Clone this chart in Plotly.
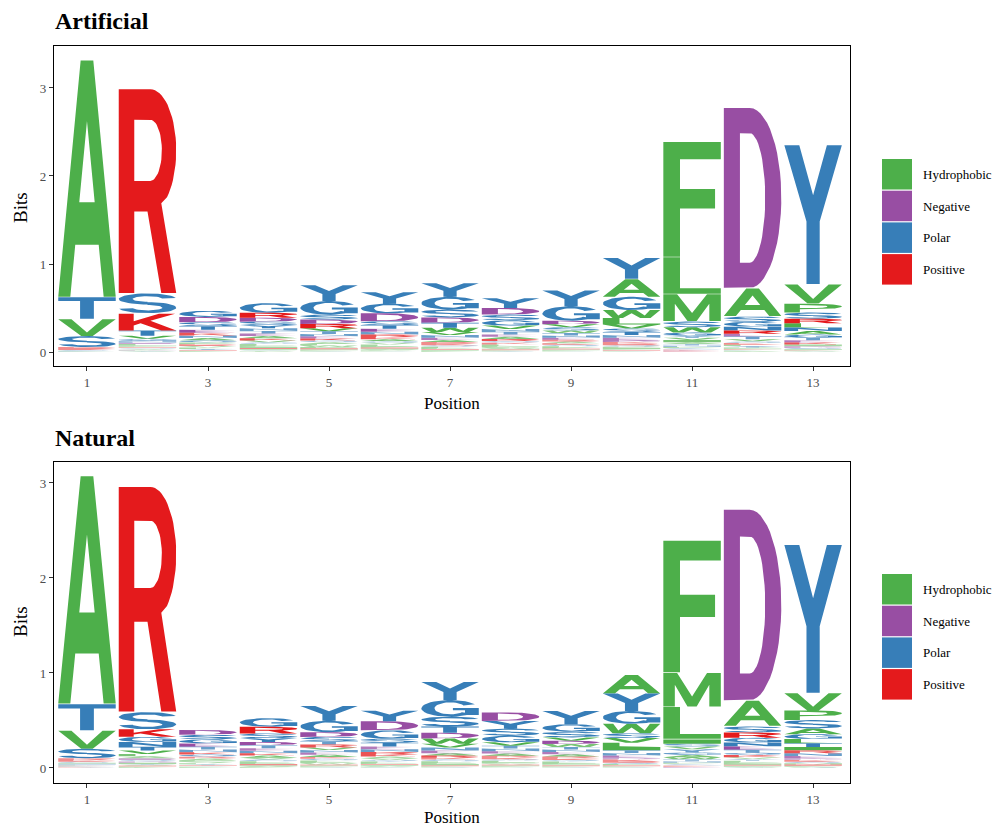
import numpy as np
import plotly.graph_objects as go

# ---------------- data (bits per residue) ----------------
positions = list(range(1, 14))

art_bits = [
    {"A": 2.69, "T": 0.25, "V": 0.19, "S": 0.125, "R": 0.02, "K": 0.012, "G": 0.01, "I": 0.008, "N": 0.006},
    {"R": 2.32, "S": 0.23, "K": 0.19, "T": 0.06, "V": 0.035, "G": 0.025, "N": 0.02, "L": 0.015, "E": 0.015,
     "A": 0.01, "Q": 0.01, "H": 0.01, "P": 0.01, "I": 0.01, "D": 0.008, "Y": 0.006, "M": 0.006, "W": 0.005},
    {"G": 0.07, "D": 0.06, "S": 0.045, "T": 0.04, "E": 0.035, "N": 0.03, "K": 0.03, "Q": 0.025, "A": 0.025,
     "R": 0.02, "P": 0.02, "V": 0.018, "L": 0.015, "Y": 0.012, "H": 0.01, "I": 0.008, "F": 0.005},
    {"G": 0.11, "R": 0.055, "D": 0.045, "S": 0.04, "Y": 0.035, "T": 0.03, "N": 0.03, "E": 0.028, "K": 0.025,
     "A": 0.025, "V": 0.022, "Q": 0.02, "L": 0.018, "P": 0.015, "H": 0.012, "M": 0.012, "I": 0.01,
     "W": 0.008, "C": 0.008, "F": 0.007},
    {"Y": 0.18, "G": 0.155, "S": 0.055, "D": 0.05, "R": 0.048, "V": 0.035, "T": 0.03, "N": 0.028, "E": 0.025,
     "K": 0.022, "A": 0.02, "Q": 0.02, "L": 0.018, "P": 0.015, "W": 0.015, "H": 0.012, "I": 0.01,
     "F": 0.008, "M": 0.007, "C": 0.006},
    {"Y": 0.13, "G": 0.11, "D": 0.09, "S": 0.045, "T": 0.04, "E": 0.035, "N": 0.03, "R": 0.028, "K": 0.025,
     "A": 0.022, "V": 0.02, "Q": 0.02, "L": 0.018, "P": 0.015, "H": 0.012, "W": 0.01, "I": 0.01,
     "F": 0.008, "M": 0.006, "C": 0.005},
    {"Y": 0.155, "G": 0.145, "S": 0.09, "D": 0.06, "T": 0.055, "W": 0.05, "V": 0.035, "N": 0.03, "E": 0.025,
     "A": 0.022, "R": 0.02, "K": 0.018, "Q": 0.016, "L": 0.015, "P": 0.012, "I": 0.01, "H": 0.01,
     "F": 0.008, "M": 0.006},
    {"Y": 0.11, "D": 0.075, "S": 0.065, "G": 0.06, "V": 0.04, "T": 0.03, "N": 0.03, "E": 0.028, "A": 0.025,
     "R": 0.022, "K": 0.02, "Q": 0.02, "L": 0.018, "P": 0.015, "W": 0.012, "H": 0.01, "I": 0.01,
     "F": 0.008, "M": 0.006, "C": 0.006},
    {"Y": 0.18, "G": 0.165, "D": 0.04, "S": 0.035, "V": 0.035, "W": 0.03, "T": 0.028, "N": 0.025, "E": 0.022,
     "A": 0.02, "R": 0.02, "K": 0.018, "Q": 0.016, "L": 0.015, "P": 0.012, "I": 0.01, "H": 0.01,
     "F": 0.008, "M": 0.006, "C": 0.005},
    {"Y": 0.24, "A": 0.2, "G": 0.15, "W": 0.09, "L": 0.075, "V": 0.045, "S": 0.04, "T": 0.035, "N": 0.03,
     "E": 0.025, "D": 0.022, "K": 0.02, "R": 0.018, "Q": 0.016, "P": 0.015, "I": 0.013, "H": 0.01,
     "F": 0.01, "M": 0.008, "C": 0.005},
    {"F": 1.31, "L": 0.42, "M": 0.31, "S": 0.065, "W": 0.06, "G": 0.035, "I": 0.025, "V": 0.025, "Y": 0.025,
     "A": 0.02, "T": 0.018, "N": 0.015, "P": 0.012, "C": 0.01, "Q": 0.008, "H": 0.007, "D": 0.006,
     "E": 0.005, "K": 0.005, "R": 0.005},
    {"D": 2.05, "A": 0.32, "S": 0.06, "G": 0.055, "N": 0.045, "R": 0.035, "E": 0.032, "T": 0.03, "V": 0.025,
     "Q": 0.02, "K": 0.018, "L": 0.016, "Y": 0.015, "P": 0.012, "I": 0.01, "H": 0.008, "M": 0.006,
     "C": 0.006, "F": 0.005, "W": 0.005},
    {"Y": 1.58, "V": 0.22, "P": 0.1, "S": 0.07, "L": 0.05, "R": 0.05, "A": 0.04, "N": 0.04, "G": 0.035,
     "T": 0.03, "E": 0.025, "K": 0.022, "D": 0.02, "I": 0.02, "Q": 0.012, "M": 0.01, "H": 0.008,
     "F": 0.006, "W": 0.005, "C": 0.005},
]

nat_bits = [
    {"A": 2.40, "T": 0.28, "V": 0.19, "S": 0.1, "R": 0.02, "K": 0.015, "G": 0.012, "N": 0.01, "I": 0.01,
     "L": 0.008, "E": 0.006, "D": 0.006, "Q": 0.005, "H": 0.005, "P": 0.005},
    {"R": 2.37, "S": 0.18, "K": 0.08, "G": 0.055, "N": 0.05, "T": 0.04, "V": 0.035, "L": 0.025, "A": 0.02,
     "E": 0.018, "Q": 0.016, "D": 0.014, "I": 0.012, "Y": 0.01, "H": 0.008, "W": 0.008, "P": 0.006,
     "F": 0.006, "M": 0.005},
    {"D": 0.05, "S": 0.048, "G": 0.042, "E": 0.035, "T": 0.03, "N": 0.028, "K": 0.025, "Q": 0.022, "R": 0.02,
     "A": 0.018, "P": 0.016, "V": 0.014, "L": 0.012, "Y": 0.01, "H": 0.008, "I": 0.006, "F": 0.005,
     "M": 0.005, "C": 0.005},
    {"G": 0.09, "R": 0.07, "S": 0.05, "Y": 0.04, "D": 0.035, "T": 0.03, "E": 0.028, "N": 0.026, "K": 0.024,
     "A": 0.022, "V": 0.02, "Q": 0.018, "L": 0.016, "P": 0.014, "H": 0.012, "I": 0.01, "W": 0.008,
     "F": 0.006, "M": 0.005},
    {"Y": 0.155, "G": 0.12, "D": 0.05, "S": 0.048, "T": 0.032, "R": 0.03, "V": 0.028, "N": 0.026, "E": 0.024,
     "A": 0.022, "K": 0.02, "Q": 0.018, "L": 0.016, "P": 0.014, "W": 0.012, "H": 0.01, "I": 0.009,
     "F": 0.007, "M": 0.006, "C": 0.005},
    {"Y": 0.11, "D": 0.095, "G": 0.09, "T": 0.04, "S": 0.04, "E": 0.03, "N": 0.028, "R": 0.025, "K": 0.022,
     "A": 0.02, "V": 0.018, "Q": 0.016, "L": 0.014, "P": 0.012, "H": 0.01, "W": 0.008, "I": 0.008,
     "F": 0.006, "M": 0.005, "C": 0.005},
    {"Y": 0.19, "G": 0.175, "S": 0.104, "T": 0.065, "D": 0.06, "W": 0.055, "V": 0.04, "N": 0.032, "E": 0.028,
     "A": 0.025, "R": 0.022, "K": 0.02, "Q": 0.018, "L": 0.016, "P": 0.014, "I": 0.012, "H": 0.01,
     "F": 0.008, "M": 0.006, "C": 0.005},
    {"D": 0.09, "Y": 0.08, "S": 0.075, "G": 0.07, "V": 0.035, "T": 0.03, "N": 0.028, "E": 0.025, "A": 0.022,
     "R": 0.02, "K": 0.018, "Q": 0.016, "L": 0.015, "P": 0.013, "W": 0.011, "H": 0.01, "I": 0.009,
     "F": 0.007, "M": 0.006, "C": 0.005},
    {"Y": 0.14, "G": 0.078, "S": 0.06, "D": 0.035, "V": 0.035, "W": 0.03, "T": 0.028, "N": 0.026, "E": 0.024,
     "A": 0.022, "R": 0.02, "K": 0.018, "Q": 0.016, "L": 0.015, "P": 0.013, "I": 0.011, "H": 0.01,
     "F": 0.008, "M": 0.006, "C": 0.005},
    {"A": 0.195, "Y": 0.185, "G": 0.135, "W": 0.1, "S": 0.05, "V": 0.048, "L": 0.045, "I": 0.035, "T": 0.03,
     "N": 0.026, "E": 0.022, "D": 0.02, "K": 0.018, "R": 0.016, "Q": 0.014, "P": 0.012, "H": 0.01,
     "F": 0.008, "M": 0.006, "C": 0.005},
    {"F": 1.39, "M": 0.36, "L": 0.34, "I": 0.045, "Y": 0.03, "V": 0.03, "S": 0.03, "G": 0.028, "A": 0.025,
     "W": 0.022, "T": 0.02, "N": 0.015, "P": 0.012, "C": 0.01, "Q": 0.008, "H": 0.006, "D": 0.005,
     "E": 0.005, "K": 0.005, "R": 0.005},
    {"D": 2.01, "A": 0.27, "S": 0.065, "R": 0.055, "G": 0.05, "N": 0.04, "E": 0.035, "T": 0.032, "Q": 0.025,
     "K": 0.022, "V": 0.02, "Y": 0.018, "L": 0.016, "P": 0.014, "I": 0.012, "H": 0.01, "M": 0.008,
     "F": 0.006, "W": 0.005, "C": 0.005},
    {"Y": 1.56, "V": 0.18, "P": 0.1, "S": 0.09, "A": 0.06, "G": 0.05, "L": 0.045, "T": 0.04, "I": 0.035,
     "N": 0.03, "R": 0.03, "E": 0.022, "D": 0.02, "K": 0.018, "Q": 0.016, "M": 0.014, "H": 0.012,
     "F": 0.01, "W": 0.008, "C": 0.006},
]

group_names = ["Hydrophobic", "Negative", "Polar", "Positive"]
group_colors = ["#4DAF4A", "#984EA3", "#377EB8", "#E41A1C"]
group_members = ["AVLIMFWP", "DE", "GSTYCNQ", "KRH"]

panel_titles = ["Artificial", "Natural"]
x_tick_vals = [1, 3, 5, 7, 9, 11, 13]
y_tick_vals = [0, 1, 2, 3]

# ---------------- glyph outlines in a unit box ----------------
def ell(cx, cy, rx, ry, a0, a1, n=28):
    t = np.radians(np.linspace(a0, a1, n))
    return list(zip(cx + rx * np.cos(t), cy + ry * np.sin(t)))

def ring_arc(cx, cy, rxo, ryo, rxi, ryi, a0, a1, n=32):
    return ell(cx, cy, rxo, ryo, a0, a1, n) + ell(cx, cy, rxi, ryi, a1, a0, n)

def rect(x0, y0, x1, y1):
    return [(x0, y0), (x1, y0), (x1, y1), (x0, y1)]

SOLID, HOLE = False, True
GLYPHS = {
    "A": [([(0, 0), (0.21, 0), (0.296, 0.22), (0.704, 0.22), (0.79, 0), (1, 0), (0.61, 1), (0.39, 1)], SOLID),
          ([(0.366, 0.4), (0.634, 0.4), (0.5, 0.744)], HOLE)],
    "C": [(ring_arc(0.5, 0.5, 0.5, 0.5, 0.27, 0.36, 35, 325), SOLID)],
    "D": [([(0, 0), (0.45, 0)] + ell(0.45, 0.5, 0.55, 0.5, -90, 90) + [(0, 1)], SOLID),
          ([(0.28, 0.14), (0.45, 0.14)] + ell(0.45, 0.5, 0.27, 0.36, -90, 90) + [(0.28, 0.86)], HOLE)],
    "E": [([(0, 0), (1, 0), (1, 0.15), (0.28, 0.15), (0.28, 0.42), (0.9, 0.42), (0.9, 0.58), (0.28, 0.58),
            (0.28, 0.85), (1, 0.85), (1, 1), (0, 1)], SOLID)],
    "F": [([(0, 0), (0.29, 0), (0.29, 0.42), (0.9, 0.42), (0.9, 0.59), (0.29, 0.59), (0.29, 0.85),
            (1, 0.85), (1, 1), (0, 1)], SOLID)],
    "G": [(ring_arc(0.5, 0.5, 0.5, 0.5, 0.27, 0.36, 30, 320), SOLID),
          (rect(0.55, 0.38, 1.0, 0.52), SOLID), (rect(0.76, 0.1, 1.0, 0.52), SOLID)],
    "H": [([(0, 0), (0.26, 0), (0.26, 0.42), (0.74, 0.42), (0.74, 0), (1, 0), (1, 1), (0.74, 1),
            (0.74, 0.58), (0.26, 0.58), (0.26, 1), (0, 1)], SOLID)],
    "I": [(rect(0, 0, 1, 1), SOLID)],
    "K": [([(0, 0), (0.26, 0), (0.26, 0.3), (0.38, 0.43), (0.74, 0), (1, 0), (0.55, 0.58), (0.98, 1),
            (0.7, 1), (0.26, 0.55), (0.26, 1), (0, 1)], SOLID)],
    "L": [([(0, 0), (1, 0), (1, 0.15), (0.29, 0.15), (0.29, 1), (0, 1)], SOLID)],
    "M": [([(0, 0), (0.2, 0), (0.2, 0.65), (0.42, 0), (0.58, 0), (0.8, 0.65), (0.8, 0), (1, 0), (1, 1),
            (0.76, 1), (0.5, 0.3), (0.24, 1), (0, 1)], SOLID)],
    "N": [([(0, 0), (0.24, 0), (0.24, 0.6), (0.76, 0), (1, 0), (1, 1), (0.76, 1), (0.76, 0.4), (0.24, 1),
            (0, 1)], SOLID)],
    "P": [([(0, 0), (0.27, 0), (0.27, 0.38), (0.55, 0.38)] + ell(0.55, 0.69, 0.45, 0.31, -90, 90) + [(0, 1)], SOLID),
          ([(0.27, 0.53), (0.55, 0.53)] + ell(0.55, 0.69, 0.2, 0.16, -90, 90) + [(0.27, 0.85)], HOLE)],
    "Q": [(ell(0.5, 0.55, 0.5, 0.45, 0, 360, 48), SOLID),
          (ell(0.5, 0.55, 0.27, 0.31, 0, 360, 48), HOLE),
          ([(0.55, 0.25), (0.76, 0.25), (1.0, 0.0), (0.79, 0.0)], SOLID)],
    "R": [([(0, 0), (0.27, 0), (0.27, 0.4), (0.5, 0.4), (0.74, 0), (1, 0), (0.74, 0.44)]
           + ell(0.55, 0.7, 0.45, 0.3, -50, 90) + [(0, 1)], SOLID),
          ([(0.27, 0.55), (0.55, 0.55)] + ell(0.55, 0.7, 0.2, 0.15, -90, 90) + [(0.27, 0.85)], HOLE)],
    "S": [(ring_arc(0.5, 0.72, 0.5, 0.28, 0.26, 0.14, 10, 270), SOLID),
          (ring_arc(0.5, 0.28, 0.5, 0.28, 0.26, 0.14, -170, 90), SOLID)],
    "T": [([(0, 1), (0, 0.83), (0.38, 0.83), (0.38, 0), (0.62, 0), (0.62, 0.83), (1, 0.83), (1, 1)], SOLID)],
    "V": [([(0, 1), (0.4, 0), (0.6, 0), (1, 1), (0.77, 1), (0.5, 0.22), (0.23, 1)], SOLID)],
    "W": [([(0, 1), (0.17, 0), (0.35, 0), (0.5, 0.6), (0.65, 0), (0.83, 0), (1, 1), (0.82, 1), (0.73, 0.3),
            (0.58, 1), (0.42, 1), (0.27, 0.3), (0.18, 1)], SOLID)],
    "Y": [([(0.385, 0), (0.615, 0), (0.615, 0.45), (1, 1), (0.74, 1), (0.5, 0.64), (0.26, 1), (0, 1),
            (0.385, 0.45)], SOLID)],
}

def oriented(ring, hole):
    pts = np.array(ring, dtype=float)
    x, y = pts[:, 0], pts[:, 1]
    area = 0.5 * np.sum(x * np.roll(y, -1) - np.roll(x, -1) * y)
    if (area > 0) == hole:
        pts = pts[::-1]
    return pts

STACK_WIDTH = 0.95
GLYPH_GAP = 0.006          # tiny vertical inset so stacked letters show a hairline gap
# very thin letters render faintly in the reference (sub-pixel glyphs); mimic with lighter fills
FADE_LIMITS = [0.012, 0.022, 0.035, 1e9]
FADE_OPACITY = [0.35, 0.5, 0.75, 1.0]

letter_group = {}
for gi, members in enumerate(group_members):
    for ch in members:
        letter_group[ch] = gi

# ---------------- figure ----------------
# the page body adds an 8px offset; size the figure so it ends at the window edge
OFF = 8
W, H = 1002 - OFF, 826 - OFF
def px(x):
    return (x - OFF) / W
def py(y):
    return 1 - (y - OFF) / H

fig = go.Figure()
panel_boxes = [(46, 366), (462, 783)]
y_ranges = [[-0.159, 3.477], [-0.158, 3.221]]
x_range = [0.455, 13.61]

for p, bits in enumerate([art_bits, nat_bits]):
    nf = len(FADE_LIMITS)
    xs = [[[] for _ in range(nf)] for _ in group_names]
    ys = [[[] for _ in range(nf)] for _ in group_names]
    for pos, stack in zip(positions, bits):
        items = sorted(stack.items(), key=lambda kv: kv[1])
        base = 0.0
        for ch, h in items:
            g = letter_group[ch]
            f = next(i for i, lim in enumerate(FADE_LIMITS) if h < lim)
            gap = GLYPH_GAP if h > 0.2 else 0.0
            for ring, hole in GLYPHS[ch]:
                pts = oriented(ring, hole)
                xs[g][f].extend(list(pos - STACK_WIDTH / 2 + pts[:, 0] * STACK_WIDTH) + [None])
                ys[g][f].extend(list(base + gap + pts[:, 1] * (h - gap)) + [None])
            base += h
    xa = "x" if p == 0 else "x2"
    ya = "y" if p == 0 else "y2"
    for g in range(len(group_names)):
        for f in range(nf):
            if not xs[g][f]:
                continue
            fig.add_trace(go.Scatter(
                x=xs[g][f], y=ys[g][f], mode="lines", fill="toself", opacity=FADE_OPACITY[f],
                fillcolor=group_colors[g], line=dict(width=0, color=group_colors[g]),
                hoverinfo="skip", showlegend=False, xaxis=xa, yaxis=ya))

axis_common = dict(showline=True, mirror=True, linecolor="black", linewidth=1.3,
                   ticks="outside", ticklen=4, tickwidth=1, tickcolor="#333333",
                   showgrid=False, zeroline=False,
                   tickfont=dict(family="Liberation Serif", size=13, color="#4D4D4D"))

layout = dict(width=W, height=H, margin=dict(l=0, r=0, t=0, b=0),
              paper_bgcolor="white", plot_bgcolor="white", showlegend=False)
for p, (top, bottom) in enumerate(panel_boxes):
    sfx = "" if p == 0 else "2"
    layout["xaxis" + sfx] = dict(axis_common, domain=[px(54), px(850)], range=x_range,
                                 tickvals=x_tick_vals, anchor="y" + sfx)
    layout["yaxis" + sfx] = dict(axis_common, domain=[py(bottom), py(top)], range=y_ranges[p],
                                 tickvals=y_tick_vals, anchor="x" + sfx)
fig.update_layout(**layout)

annotations = []
shapes = []
title_y = [21, 438]
pos_title_y = [403, 817]
bits_title_y = [208, 622]
legend_top = [159, 574]
for p in range(2):
    annotations.append(dict(text="<b>" + panel_titles[p] + "</b>", x=px(53), y=py(title_y[p]),
                            xref="paper", yref="paper", xanchor="left", yanchor="middle", showarrow=False,
                            font=dict(family="Liberation Serif", size=24, color="black")))
    annotations.append(dict(text="Position", x=px(452), y=py(pos_title_y[p]), xref="paper", yref="paper",
                            xanchor="center", yanchor="middle", showarrow=False,
                            font=dict(family="Liberation Serif", size=17, color="black")))
    annotations.append(dict(text="Bits", x=px(20), y=py(bits_title_y[p]), xref="paper", yref="paper",
                            xanchor="center", yanchor="middle", showarrow=False, textangle=-90,
                            font=dict(family="Liberation Serif", size=19, color="black")))
    for g, (name, col) in enumerate(zip(group_names, group_colors)):
        y0 = legend_top[p] + g * 31.7
        shapes.append(dict(type="rect", xref="paper", yref="paper", x0=px(882), x1=px(912),
                           y0=py(y0 + 30.5), y1=py(y0), fillcolor=col, line=dict(width=0)))
        annotations.append(dict(text=name, x=px(921), y=py(y0 + 15.5), xref="paper", yref="paper",
                                xanchor="left", yanchor="middle", showarrow=False,
                                font=dict(family="Liberation Serif", size=13, color="black")))
fig.update_layout(annotations=annotations, shapes=shapes)

fig.write_html("out.html")
